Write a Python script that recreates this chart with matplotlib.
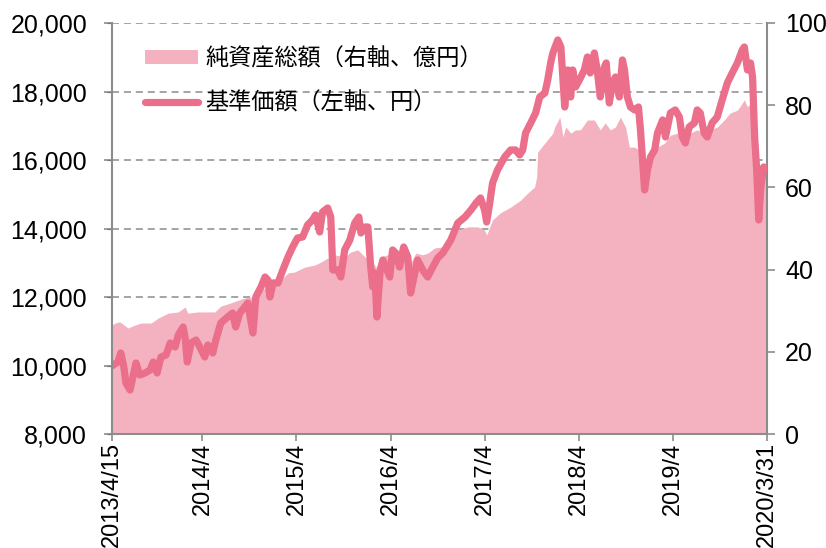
import matplotlib
matplotlib.use("Agg")
import matplotlib.pyplot as plt
from matplotlib.patches import Patch
from matplotlib.lines import Line2D
import pandas as pd

# ---------------- data ----------------
nav_dates = [
    "2013-04-15", "2013-05-08", "2013-05-19", "2013-05-31", "2013-06-08", "2013-06-24", "2013-07-05",
    "2013-07-17", "2013-08-01", "2013-08-21", "2013-09-10", "2013-09-22", "2013-10-07", "2013-10-22",
    "2013-11-11", "2013-11-27", "2013-12-16", "2013-12-28", "2014-01-16", "2014-01-24", "2014-02-01",
    "2014-02-16", "2014-03-07", "2014-03-22", "2014-04-10", "2014-04-22", "2014-05-11", "2014-05-23",
    "2014-06-11", "2014-07-08", "2014-07-27", "2014-08-08", "2014-08-24", "2014-09-12", "2014-09-24",
    "2014-10-14", "2014-10-25", "2014-11-14", "2014-11-30", "2014-12-11", "2014-12-19", "2014-12-31",
    "2015-01-19", "2015-02-07", "2015-02-27", "2015-03-17", "2015-04-05", "2015-04-25", "2015-05-14",
    "2015-06-02", "2015-06-14", "2015-06-30", "2015-07-11", "2015-07-31", "2015-08-12", "2015-08-20",
    "2015-09-08", "2015-09-20", "2015-10-05", "2015-10-25", "2015-11-13", "2015-11-29", "2015-12-07",
    "2015-12-22", "2016-01-03", "2016-01-14", "2016-01-22", "2016-01-30", "2016-02-07", "2016-02-19",
    "2016-03-01", "2016-03-12", "2016-03-28", "2016-04-08", "2016-04-20", "2016-05-05", "2016-05-21",
    "2016-06-06", "2016-06-17", "2016-07-03", "2016-07-14", "2016-08-03", "2016-08-22", "2016-09-11",
    "2016-09-30", "2016-10-20", "2016-11-20", "2016-12-17", "2017-01-14", "2017-02-06", "2017-02-26",
    "2017-03-15", "2017-03-31", "2017-04-08", "2017-04-20", "2017-05-01", "2017-05-20", "2017-06-17",
    "2017-07-10", "2017-07-29", "2017-08-14", "2017-08-26", "2017-09-06", "2017-09-26", "2017-10-15",
    "2017-10-31", "2017-11-20", "2017-12-01", "2017-12-13", "2017-12-21", "2018-01-09", "2018-01-21",
    "2018-02-05", "2018-02-17", "2018-02-28", "2018-03-08", "2018-03-19", "2018-04-03", "2018-04-22",
    "2018-05-04", "2018-05-15", "2018-05-31", "2018-06-11", "2018-06-23", "2018-07-09", "2018-07-16",
    "2018-07-28", "2018-08-09", "2018-08-21", "2018-09-05", "2018-09-17", "2018-09-25", "2018-10-06",
    "2018-10-18", "2018-11-03", "2018-11-18", "2018-11-26", "2018-12-04", "2018-12-12", "2018-12-23",
    "2019-01-04", "2019-01-20", "2019-01-31", "2019-02-20", "2019-03-03", "2019-03-22", "2019-04-10",
    "2019-04-26", "2019-05-07", "2019-05-19", "2019-06-03", "2019-06-23", "2019-07-04", "2019-07-16",
    "2019-07-31", "2019-08-12", "2019-08-31", "2019-09-20", "2019-10-09", "2019-10-29", "2019-11-17",
    "2019-12-07", "2019-12-26", "2020-01-03", "2020-01-15", "2020-01-27", "2020-02-04", "2020-02-12",
    "2020-02-20", "2020-02-28", "2020-03-07", "2020-03-18", "2020-03-31",
]
nav_values = [
    9990, 10100, 10365, 9956, 9489, 9285, 9664,
    10073, 9723, 9781, 9869, 10102, 9781, 10248,
    10307, 10657, 10540, 10891, 11124, 10803, 10102,
    10657, 10745, 10540, 10248, 10599, 10365, 10745,
    11241, 11416, 11533, 11124, 11533, 11708, 11825,
    10949, 12000, 12292, 12584, 12497, 12000, 12409,
    12409, 12789, 13168, 13460, 13723, 13752, 14103,
    14249, 14395, 13898, 14482, 14599, 14336, 12789,
    12789, 12584, 13373, 13665, 14161, 14336, 13869,
    14044, 14044, 12876, 12292, 12701, 11416, 12701,
    13081, 12876, 12584, 13373, 13285, 12876, 13460,
    13168, 12117, 12701, 13081, 12789, 12584, 12876,
    13139, 13285, 13665, 14161, 14336, 14541, 14745,
    14891, 14541, 14190, 14745, 15329, 15709, 16088,
    16293, 16293, 16147, 16293, 16789, 17081, 17373,
    17840, 17957, 18337, 18862, 19125, 19505, 19300,
    17548, 18629, 17840, 18629, 18132, 18337, 18629,
    19008, 18541, 19125, 18629, 17840, 18716, 18833,
    17665, 18249, 18424, 17840, 18921, 18629, 17840,
    17548, 17461, 17548, 16877, 16001, 15125, 15709,
    16088, 16293, 16789, 17169, 16672, 17373, 17461,
    17256, 16672, 16497, 16964, 17081, 17461, 17373,
    16789, 16672, 17081, 17256, 17753, 18249, 18541,
    18833, 19213, 19300, 18629, 18833, 18424, 16672,
    15709, 14249, 15212, 15796, 15709,
]

asset_dates = [
    "2013-04-15", "2013-04-27", "2013-05-15", "2013-06-16", "2013-07-13", "2013-08-05", "2013-09-14",
    "2013-10-11", "2013-11-19", "2013-12-28", "2014-01-24", "2014-02-03", "2014-03-14", "2014-04-22",
    "2014-05-19", "2014-06-11", "2014-07-20", "2014-09-12", "2014-10-06", "2014-10-21", "2014-11-14",
    "2014-12-11", "2015-01-07", "2015-01-31", "2015-02-27", "2015-03-24", "2015-05-03", "2015-06-10",
    "2015-07-04", "2015-07-31", "2015-08-20", "2015-08-28", "2015-10-05", "2015-10-29", "2015-11-25",
    "2015-12-22", "2016-01-14", "2016-02-03", "2016-02-22", "2016-03-20", "2016-04-16", "2016-05-09",
    "2016-06-06", "2016-06-17", "2016-07-07", "2016-08-03", "2016-08-22", "2016-09-19", "2016-10-20",
    "2016-11-09", "2016-12-17", "2017-01-25", "2017-03-04", "2017-03-31", "2017-04-08", "2017-05-01",
    "2017-05-31", "2017-07-10", "2017-08-18", "2017-09-14", "2017-10-11", "2017-10-19", "2017-10-23",
    "2017-11-20", "2017-12-21", "2017-12-28", "2018-01-17", "2018-01-29", "2018-02-09", "2018-02-28",
    "2018-03-19", "2018-04-07", "2018-05-04", "2018-05-31", "2018-06-23", "2018-07-12", "2018-08-01",
    "2018-08-21", "2018-09-09", "2018-09-29", "2018-10-14", "2018-11-03", "2018-11-22", "2018-12-04",
    "2018-12-12", "2018-12-23", "2019-01-31", "2019-02-28", "2019-03-22", "2019-04-18", "2019-05-15",
    "2019-06-07", "2019-07-04", "2019-07-31", "2019-08-24", "2019-09-20", "2019-10-17", "2019-11-09",
    "2019-12-07", "2019-12-26", "2020-01-03", "2020-01-15", "2020-01-27", "2020-02-04", "2020-02-12",
    "2020-02-20", "2020-02-28", "2020-03-07", "2020-03-18", "2020-03-31",
]
asset_values = [
    26.5, 27.0, 27.3, 25.8, 26.5, 27.0, 27.0,
    28.2, 29.4, 29.7, 30.9, 29.4, 29.7, 29.7,
    29.7, 31.1, 31.9, 33.1, 33.3, 31.9, 35.0,
    35.8, 35.8, 37.5, 39.2, 39.4, 40.6, 41.1,
    41.8, 42.8, 42.3, 43.6, 43.1, 44.3, 44.8,
    43.1, 42.3, 40.6, 43.1, 43.6, 44.3, 43.1,
    43.1, 41.6, 44.0, 43.6, 44.0, 45.3, 45.5,
    47.9, 49.6, 50.4, 50.4, 49.6, 48.4, 52.1,
    53.8, 55.2, 56.9, 58.6, 60.1, 62.5, 68.6,
    70.8, 73.2, 74.7, 77.1, 72.3, 74.7, 73.2,
    74.0, 74.0, 76.4, 76.4, 74.0, 75.7, 74.0,
    74.7, 77.1, 74.7, 69.8, 69.8, 69.1, 65.5,
    64.2, 65.0, 69.8, 70.8, 72.7, 73.2, 72.3,
    73.2, 74.0, 73.2, 74.0, 74.7, 76.4, 78.1,
    78.8, 80.5, 81.3, 79.6, 80.5, 78.8, 75.2,
    66.7, 56.9, 60.6, 64.2, 63.7,
]

left_ticks = [8000, 10000, 12000, 14000, 16000, 18000, 20000]
left_labels = ["8,000", "10,000", "12,000", "14,000", "16,000", "18,000", "20,000"]
right_ticks = [0, 20, 40, 60, 80, 100]
right_labels = ["0", "20", "40", "60", "80", "100"]
x_tick_dates = ["2013-04-15", "2014-04-01", "2015-04-01", "2016-04-01",
                "2017-04-01", "2018-04-01", "2019-04-01", "2020-03-31"]
x_tick_labels = ["2013/4/15", "2014/4", "2015/4", "2016/4",
                 "2017/4", "2018/4", "2019/4", "2020/3/31"]
area_label = "純資産総額（右軸、億円）"
line_label = "基準価額（左軸、円）"

# ---------------- style ----------------
LINE_C = "#EB6E8A"
AREA_C = "#F4B2C0"
GRID_C = "#8C8C8C"
SPINE_C = "#8C8C8C"
NUM_FONT = ["Liberation Sans", "DejaVu Sans"]
JP_FONT = ["Noto Sans CJK JP", "DejaVu Sans"]
TICK_FS = 18
XTICK_FS = 17

nd = pd.to_datetime(nav_dates)
ad = pd.to_datetime(asset_dates)
xt = pd.to_datetime(x_tick_dates)
xmin, xmax = pd.Timestamp(x_tick_dates[0]), pd.Timestamp(x_tick_dates[-1])

fig = plt.figure(figsize=(8.26, 5.48), dpi=100)
rect = [112 / 826, 114 / 548, 655 / 826, 411 / 548]

# grid layer (left scale)
axg = fig.add_axes(rect)
axg.set_xlim(xmin, xmax)
axg.set_ylim(8000, 20000)
axg.set_yticks(left_ticks)
axg.set_xticks([])
axg.yaxis.grid(True, color=GRID_C, linewidth=1.1, linestyle=(0, (4.6, 3.2)))
axg.tick_params(left=False, labelleft=False, bottom=False, labelbottom=False)
for s in axg.spines.values():
    s.set_visible(False)

# area layer (right scale)
ax2 = axg.twinx()
ax2.fill_between(ad, asset_values, 0, color=AREA_C, linewidth=0)
ax2.set_ylim(0, 100)
ax2.set_yticks(right_ticks)
ax2.set_yticklabels(right_labels, fontfamily=NUM_FONT, fontsize=TICK_FS)
ax2.tick_params(axis="y", direction="out", length=6, width=1.2, color=SPINE_C, pad=7)
for k, s in ax2.spines.items():
    s.set_visible(k == "right")
ax2.spines["right"].set_color(SPINE_C)
ax2.spines["right"].set_linewidth(1.5)

# line layer (left scale)
ax = fig.add_axes(rect, sharex=axg)
ax.patch.set_visible(False)
ax.plot(nd, nav_values, color=LINE_C, linewidth=5.2, solid_joinstyle="round",
        solid_capstyle="round")
ax.set_ylim(8000, 20000)
ax.set_xlim(xmin, xmax)
ax.set_yticks(left_ticks)
ax.set_yticklabels(left_labels, fontfamily=NUM_FONT, fontsize=TICK_FS)
ax.set_xticks(xt)
ax.set_xticklabels(x_tick_labels, rotation=90, fontfamily=NUM_FONT, fontsize=XTICK_FS,
                   va="top", ha="center")
ax.tick_params(axis="y", direction="out", length=6, width=1.2, color=SPINE_C, pad=12)
ax.tick_params(axis="x", direction="out", length=5, width=1.2, color=SPINE_C, pad=1)
ax.spines["top"].set_visible(False)
ax.spines["right"].set_visible(False)
for k in ("left", "bottom"):
    ax.spines[k].set_color(SPINE_C)
    ax.spines[k].set_linewidth(1.5)

handles = [Patch(facecolor=AREA_C, edgecolor="none"),
           Line2D([], [], color=LINE_C, linewidth=5.2, solid_capstyle="round")]
leg = ax.legend(handles, [area_label, line_label], loc="upper left",
                bbox_to_anchor=(0.05, 0.94), frameon=False, borderaxespad=0, borderpad=0,
                prop={"family": JP_FONT, "size": 16.7}, handlelength=2.3, handleheight=0.55,
                handletextpad=0.3, labelspacing=0.9)

fig.savefig("out.png", dpi=100)
